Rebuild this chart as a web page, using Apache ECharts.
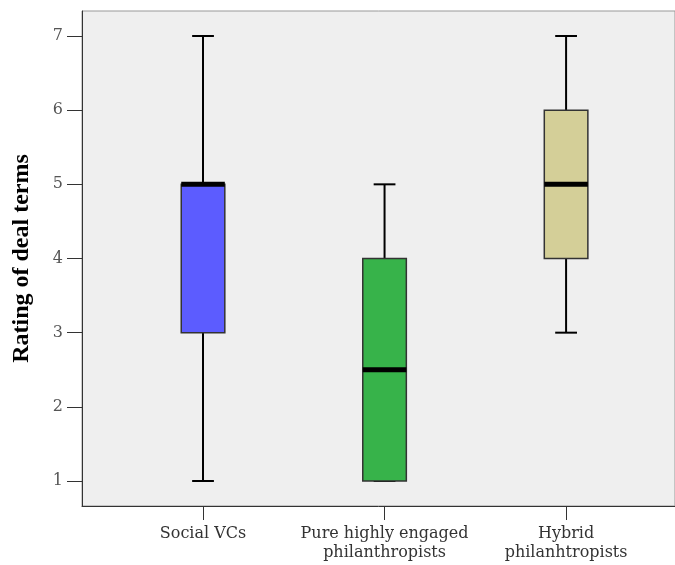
<!DOCTYPE html>
<html>
<head>
<meta charset="utf-8">
<script src="https://cdn.jsdelivr.net/npm/echarts@6/dist/echarts.min.js"></script>
<style>
html,body{margin:0;padding:0;background:#fff;}
#chart{width:675px;height:565px;}
</style>
</head>
<body>
<div id="chart"></div>
<script>
const categories = ['Social VCs', 'Pure highly engaged\nphilanthropists', 'Hybrid\nphilanhtropists'];
const whiskerLow = [1, 1, 3];
const quartile1 = [3, 1, 4];
const medians = [5, 2.5, 5];
const quartile3 = [5, 4, 6];
const whiskerHigh = [7, 5, 7];
const yTicks = [1, 2, 3, 4, 5, 6, 7];
const catPositions = [1, 2, 3];

const boxColors = ['#5c5cff', '#37b34a', '#d4cf98'];

const data = categories.map((c, i) => [catPositions[i], whiskerLow[i], quartile1[i], medians[i], quartile3[i], whiskerHigh[i]]);

const chart = echarts.init(document.getElementById('chart'), null, {renderer: 'canvas'});

function renderItem(params, api) {
  const x = api.value(0);
  const lo = api.coord([x, api.value(1)]);
  const q1 = api.coord([x, api.value(2)]);
  const med = api.coord([x, api.value(3)]);
  const q3 = api.coord([x, api.value(4)]);
  const hi = api.coord([x, api.value(5)]);
  const unit = api.size([1, 0])[0];
  const boxW = unit * 0.24;
  const capW = unit * 0.12;
  const cx = lo[0];
  const color = boxColors[params.dataIndex];
  const lineStyle = {stroke: '#000', lineWidth: 2};
  return {
    type: 'group',
    children: [
      {type: 'line', shape: {x1: cx, y1: q3[1], x2: cx, y2: hi[1]}, style: lineStyle},
      {type: 'line', shape: {x1: cx, y1: q1[1], x2: cx, y2: lo[1]}, style: lineStyle},
      {type: 'line', shape: {x1: cx - capW / 2, y1: hi[1], x2: cx + capW / 2, y2: hi[1]}, style: lineStyle},
      {type: 'line', shape: {x1: cx - capW / 2, y1: lo[1], x2: cx + capW / 2, y2: lo[1]}, style: lineStyle},
      {type: 'rect', shape: {x: cx - boxW / 2, y: q3[1], width: boxW, height: q1[1] - q3[1]},
        style: {fill: color, stroke: '#333', lineWidth: 1.5}},
      {type: 'line', shape: {x1: cx - boxW / 2, y1: med[1], x2: cx + boxW / 2, y2: med[1]},
        style: {stroke: '#000', lineWidth: 5}}
    ]
  };
}

const option = {
  animation: false,
  backgroundColor: '#ffffff',
  grid: {
    left: 82, right: 0, top: 11, bottom: 59,
    show: true, backgroundColor: '#efefef', borderColor: '#999', borderWidth: 1
  },
  xAxis: {
    type: 'value',
    min: 0.3333,
    max: 3.6,
    splitLine: {show: false},
    axisLine: {show: true, lineStyle: {color: '#333', width: 1}},
    axisTick: {show: true, customValues: catPositions, length: 14, lineStyle: {color: '#333', width: 1}},
    axisLabel: {
      customValues: catPositions,
      formatter: function (v) { return categories[Math.round(v) - 1] || ''; },
      margin: 18,
      fontFamily: 'DejaVu Serif',
      fontSize: 16,
      lineHeight: 19,
      color: '#333',
      align: 'center'
    }
  },
  yAxis: {
    type: 'value',
    min: 0.663,
    max: 7.337,
    splitLine: {show: false},
    axisLine: {show: true, lineStyle: {color: '#333', width: 1}},
    axisTick: {show: true, customValues: yTicks, length: 15, lineStyle: {color: '#333', width: 1}},
    axisLabel: {
      customValues: yTicks,
      margin: 19,
      fontFamily: 'DejaVu Serif',
      fontSize: 16,
      color: '#555'
    },
    name: 'Rating of deal terms',
    nameLocation: 'middle',
    nameRotate: 90,
    nameGap: 48,
    nameTextStyle: {
      fontFamily: 'Liberation Serif',
      fontWeight: 'bold',
      fontSize: 24,
      color: '#000'
    }
  },
  series: [{
    type: 'custom',
    renderItem: renderItem,
    encode: {x: 0, y: [1, 2, 3, 4, 5]},
    data: data,
    clip: false
  }]
};
chart.setOption(option);
</script>
</body>
</html>
